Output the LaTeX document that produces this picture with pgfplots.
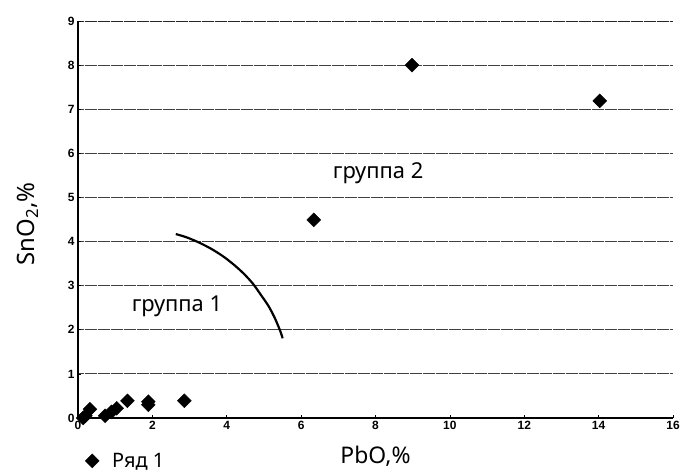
\documentclass[border=0pt]{standalone}
\usepackage{fontspec}
\setmainfont{Noto Sans}
\newfontfamily\tickfont{Liberation Sans}
\usepackage{pgfplots}
\pgfplotsset{compat=1.18}
\begin{document}
\begin{tikzpicture}
\begin{axis}[
  scale only axis,
  width=595bp, height=397bp,
  xmin=0, xmax=16, ymin=0, ymax=9,
  xtick={0,2,...,16}, ytick={0,1,...,9},
  axis x line*=bottom, axis y line*=left,
  axis line style={line width=1.3pt, -},
  tick style={black, line width=0.6pt},
  major tick length=3bp,
  ymajorgrids,
  grid style={black!75, line width=0.8pt, dash pattern=on 6bp off 0.5bp},
  extra y ticks={9}, extra y tick labels={},
  extra y tick style={grid style={black!85, line width=0.9pt}},
  ticklabel style={font=\tickfont\bfseries\fontsize{12}{12}\selectfont},
  /pgf/number format/assume math mode=true,
  xlabel={PbO,\%},
  ylabel={SnO\textsubscript{2},\%},
  xlabel style={font=\fontsize{23}{23}\selectfont, at={(axis description cs:0.5,0)}, anchor=north, yshift=-25bp},
  ylabel style={font=\fontsize{24}{24}\selectfont, at={(axis description cs:-0.084,0.489)}, anchor=center},
  legend style={draw=none, fill=none, at={(axis description cs:0.012,-0.108)}, anchor=west,
    font=\fontsize{20}{20}\selectfont, inner sep=0pt},
  legend cell align=left,
  clip=false,
]
\addplot[only marks, mark=square*, mark size=4.9bp, mark options={rotate=45, fill=black, draw=black}] coordinates {
  (0.14,0.0) (0.2,0.05) (0.32,0.2) (0.73,0.05) (0.9,0.14) (1.04,0.22)
  (1.33,0.39) (1.89,0.37) (1.89,0.3) (2.86,0.39)
  (6.34,4.49) (8.98,8.0) (14.03,7.19)
};
\addlegendentry{\kern11bp Ряд 1}
\addplot[black, line width=2.2pt, smooth, forget plot] coordinates {
  (2.63,4.17) (2.922,4.095) (3.261,3.975) (3.587,3.833) (3.898,3.667)
  (4.188,3.478) (4.460,3.270) (4.707,3.041) (4.914,2.796) (5.126,2.534)
  (5.296,2.259) (5.438,1.973) (5.503,1.807)
};
\node[font=\fontsize{22}{22}\selectfont, anchor=base west, inner sep=0pt] at (axis cs:6.85,5.44) {группа 2};
\node[font=\fontsize{22}{22}\selectfont, anchor=base west, inner sep=0pt] at (axis cs:1.44,2.41) {группа 1};
\end{axis}
\pgfresetboundingbox
\path[use as bounding box] ([shift={(-78bp,-54bp)}]current axis.south west) rectangle ([shift={(11bp,21bp)}]current axis.north east);
\end{tikzpicture}
\end{document}
